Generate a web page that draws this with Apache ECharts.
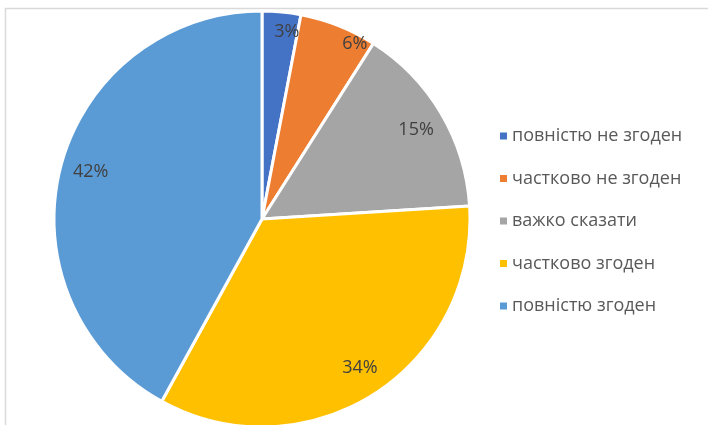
<!DOCTYPE html>
<html><head><meta charset="utf-8">
<script src="https://cdn.jsdelivr.net/npm/echarts@6/dist/echarts.min.js"></script>
<style>html,body{margin:0;padding:0;background:#fff}#c{width:708px;height:425px}</style>
</head><body><div id="c"></div>
<script>
const categories = ['повністю не згоден','частково не згоден','важко сказати','частково згоден','повністю згоден'];
const values = [3, 6, 15, 34, 42];
const colors = ['#4472C4','#ED7D31','#A5A5A5','#FFC000','#5B9BD5'];
const labelOffsets = [[8,-9],[27,-9],[0,2],[2,-2],[2,-3]];

const chart = echarts.init(document.getElementById('c'));
const pieData = categories.map((n,i)=>({name:n, value:values[i], itemStyle:{color:colors[i]}}));
const labelData = categories.map((n,i)=>({name:n, value:values[i], label:{offset:labelOffsets[i]}}));
chart.setOption({
  animation:false,
  graphic:[{type:'rect', shape:{x:5.5,y:8.5,width:800,height:600}, style:{fill:'none',stroke:'#d9d9d9',lineWidth:1.5}, silent:true}],
  legend:{
    orient:'vertical', left:495, top:120, icon:'rect', itemWidth:7, itemHeight:7, itemGap:20.5, itemStyle:{borderWidth:0},
    data:categories,
    textStyle:{fontFamily:'Open Sans', fontSize:18, color:'#595959', lineHeight:22}
  },
  series:[
    {type:'pie', center:[262,219], radius:[0,208], startAngle:90, clockwise:true,
     itemStyle:{borderColor:'#fff', borderWidth:3}, label:{show:false}, labelLine:{show:false},
     emphasis:{disabled:true}, data:pieData},
    {type:'pie', center:[262,219], radius:[144,208], startAngle:90, clockwise:true, silent:true,
     legendHoverLink:false,
     itemStyle:{color:'rgba(0,0,0,0)', borderWidth:0},
     label:{show:true, position:'inside', formatter:'{c}%', fontFamily:'Open Sans', fontSize:18, color:'#404040'},
     labelLine:{show:false}, emphasis:{disabled:true}, data:labelData}
  ]
});
</script></body></html>
